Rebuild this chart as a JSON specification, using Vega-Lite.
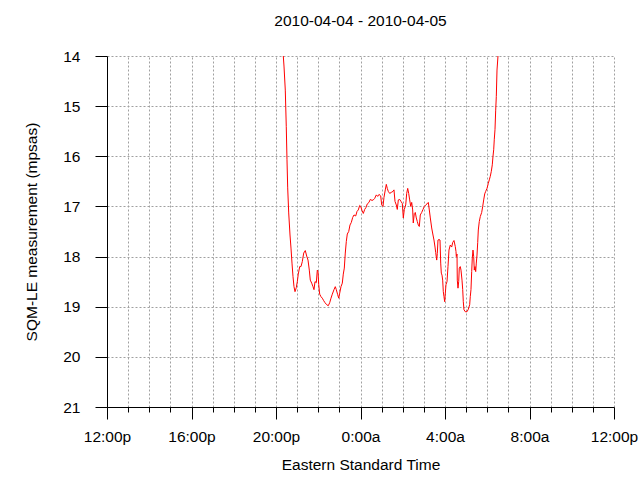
{
  "width": 507,
  "height": 351,
  "autosize": {"type": "none"},
  "padding": {"left": 107, "top": 56, "right": 26, "bottom": 73},
  "background": "white",
  "title": {"text": "2010-04-04 - 2010-04-05", "font": "Liberation Sans", "fontSize": 15.5, "fontWeight": "normal", "color": "#000000", "anchor": "middle", "offset": 20},
  "config": {"view": {"stroke": null}, "axis": {"labelFont": "Liberation Sans", "titleFont": "Liberation Sans", "labelColor": "#000000", "titleColor": "#000000", "titleFontWeight": "normal"}},
  "data": {"values": [
    {"t": "2010-04-04T20:17:00Z", "v": 13.0},
    {"t": "2010-04-04T20:20:42Z", "v": 14.0},
    {"t": "2010-04-04T20:22:42Z", "v": 14.2},
    {"t": "2010-04-04T20:26:24Z", "v": 14.68},
    {"t": "2010-04-04T20:29:12Z", "v": 15.41},
    {"t": "2010-04-04T20:31:12Z", "v": 16.07},
    {"t": "2010-04-04T20:33:12Z", "v": 16.63},
    {"t": "2010-04-04T20:36:06Z", "v": 17.13},
    {"t": "2010-04-04T20:39:48Z", "v": 17.57},
    {"t": "2010-04-04T20:42:36Z", "v": 17.83},
    {"t": "2010-04-04T20:45:24Z", "v": 18.13},
    {"t": "2010-04-04T20:48:18Z", "v": 18.4},
    {"t": "2010-04-04T20:51:06Z", "v": 18.6},
    {"t": "2010-04-04T20:54:00Z", "v": 18.7},
    {"t": "2010-04-04T20:57:36Z", "v": 18.62},
    {"t": "2010-04-04T21:00:30Z", "v": 18.5},
    {"t": "2010-04-04T21:03:18Z", "v": 18.35},
    {"t": "2010-04-04T21:07:18Z", "v": 18.2},
    {"t": "2010-04-04T21:11:00Z", "v": 18.2},
    {"t": "2010-04-04T21:14:42Z", "v": 18.1},
    {"t": "2010-04-04T21:18:42Z", "v": 17.93},
    {"t": "2010-04-04T21:23:12Z", "v": 17.88},
    {"t": "2010-04-04T21:27:12Z", "v": 17.99},
    {"t": "2010-04-04T21:30:54Z", "v": 18.07},
    {"t": "2010-04-04T21:34:36Z", "v": 18.27},
    {"t": "2010-04-04T21:37:24Z", "v": 18.47},
    {"t": "2010-04-04T21:41:24Z", "v": 18.53},
    {"t": "2010-04-04T21:45:06Z", "v": 18.6},
    {"t": "2010-04-04T21:47:54Z", "v": 18.66},
    {"t": "2010-04-04T21:50:48Z", "v": 18.5},
    {"t": "2010-04-04T21:54:30Z", "v": 18.52},
    {"t": "2010-04-04T21:57:18Z", "v": 18.27},
    {"t": "2010-04-04T21:59:18Z", "v": 18.3},
    {"t": "2010-04-04T22:01:18Z", "v": 18.56},
    {"t": "2010-04-04T22:04:06Z", "v": 18.75},
    {"t": "2010-04-04T22:07:48Z", "v": 18.8},
    {"t": "2010-04-04T22:11:30Z", "v": 18.83},
    {"t": "2010-04-04T22:15:30Z", "v": 18.88},
    {"t": "2010-04-04T22:19:12Z", "v": 18.92},
    {"t": "2010-04-04T22:24:00Z", "v": 18.96},
    {"t": "2010-04-04T22:28:30Z", "v": 18.98},
    {"t": "2010-04-04T22:32:30Z", "v": 18.92},
    {"t": "2010-04-04T22:36:12Z", "v": 18.83},
    {"t": "2010-04-04T22:39:54Z", "v": 18.75},
    {"t": "2010-04-04T22:44:42Z", "v": 18.66},
    {"t": "2010-04-04T22:48:24Z", "v": 18.6},
    {"t": "2010-04-04T22:51:18Z", "v": 18.66},
    {"t": "2010-04-04T22:55:12Z", "v": 18.76},
    {"t": "2010-04-04T22:58:06Z", "v": 18.83},
    {"t": "2010-04-04T23:00:54Z", "v": 18.73},
    {"t": "2010-04-04T23:04:36Z", "v": 18.6},
    {"t": "2010-04-04T23:08:18Z", "v": 18.53},
    {"t": "2010-04-04T23:11:06Z", "v": 18.35},
    {"t": "2010-04-04T23:14:00Z", "v": 18.23},
    {"t": "2010-04-04T23:16:48Z", "v": 17.93},
    {"t": "2010-04-04T23:19:42Z", "v": 17.7},
    {"t": "2010-04-04T23:22:30Z", "v": 17.55},
    {"t": "2010-04-04T23:26:30Z", "v": 17.5},
    {"t": "2010-04-04T23:30:12Z", "v": 17.37},
    {"t": "2010-04-04T23:33:54Z", "v": 17.32},
    {"t": "2010-04-04T23:37:48Z", "v": 17.22},
    {"t": "2010-04-04T23:41:30Z", "v": 17.17},
    {"t": "2010-04-04T23:46:24Z", "v": 17.19},
    {"t": "2010-04-04T23:50:06Z", "v": 17.1},
    {"t": "2010-04-04T23:53:42Z", "v": 17.07},
    {"t": "2010-04-04T23:57:42Z", "v": 16.98},
    {"t": "2010-04-05T00:00:36Z", "v": 17.0},
    {"t": "2010-04-05T00:04:18Z", "v": 17.08},
    {"t": "2010-04-05T00:08:00Z", "v": 17.14},
    {"t": "2010-04-05T00:11:54Z", "v": 17.06},
    {"t": "2010-04-05T00:15:36Z", "v": 17.02},
    {"t": "2010-04-05T00:19:18Z", "v": 16.95},
    {"t": "2010-04-05T00:24:06Z", "v": 16.92},
    {"t": "2010-04-05T00:27:48Z", "v": 16.86},
    {"t": "2010-04-05T00:32:42Z", "v": 16.88},
    {"t": "2010-04-05T00:36:18Z", "v": 16.87},
    {"t": "2010-04-05T00:40:18Z", "v": 16.84},
    {"t": "2010-04-05T00:44:54Z", "v": 16.77},
    {"t": "2010-04-05T00:48:48Z", "v": 16.8},
    {"t": "2010-04-05T00:52:30Z", "v": 16.76},
    {"t": "2010-04-05T00:57:24Z", "v": 16.79},
    {"t": "2010-04-05T01:00:12Z", "v": 16.97},
    {"t": "2010-04-05T01:03:54Z", "v": 17.0},
    {"t": "2010-04-05T01:06:42Z", "v": 16.82},
    {"t": "2010-04-05T01:10:24Z", "v": 16.67},
    {"t": "2010-04-05T01:13:18Z", "v": 16.56},
    {"t": "2010-04-05T01:16:06Z", "v": 16.64},
    {"t": "2010-04-05T01:18:54Z", "v": 16.7},
    {"t": "2010-04-05T01:22:54Z", "v": 16.74},
    {"t": "2010-04-05T01:27:30Z", "v": 16.72},
    {"t": "2010-04-05T01:32:18Z", "v": 16.7},
    {"t": "2010-04-05T01:35:06Z", "v": 16.67},
    {"t": "2010-04-05T01:38:00Z", "v": 16.9},
    {"t": "2010-04-05T01:41:42Z", "v": 16.97},
    {"t": "2010-04-05T01:44:30Z", "v": 17.06},
    {"t": "2010-04-05T01:47:24Z", "v": 16.87},
    {"t": "2010-04-05T01:51:18Z", "v": 16.86},
    {"t": "2010-04-05T01:55:00Z", "v": 16.9},
    {"t": "2010-04-05T01:58:42Z", "v": 16.94},
    {"t": "2010-04-05T02:01:36Z", "v": 17.23},
    {"t": "2010-04-05T02:04:24Z", "v": 17.06},
    {"t": "2010-04-05T02:08:24Z", "v": 16.97},
    {"t": "2010-04-05T02:11:12Z", "v": 16.74},
    {"t": "2010-04-05T02:14:06Z", "v": 16.64},
    {"t": "2010-04-05T02:16:54Z", "v": 16.74},
    {"t": "2010-04-05T02:19:42Z", "v": 16.87},
    {"t": "2010-04-05T02:22:36Z", "v": 17.0},
    {"t": "2010-04-05T02:25:24Z", "v": 16.92},
    {"t": "2010-04-05T02:28:12Z", "v": 17.07},
    {"t": "2010-04-05T02:29:54Z", "v": 17.33},
    {"t": "2010-04-05T02:32:48Z", "v": 17.14},
    {"t": "2010-04-05T02:35:36Z", "v": 17.12},
    {"t": "2010-04-05T02:38:30Z", "v": 17.23},
    {"t": "2010-04-05T02:41:18Z", "v": 17.3},
    {"t": "2010-04-05T02:44:12Z", "v": 17.37},
    {"t": "2010-04-05T02:47:00Z", "v": 17.4},
    {"t": "2010-04-05T02:49:48Z", "v": 17.17},
    {"t": "2010-04-05T02:53:48Z", "v": 17.12},
    {"t": "2010-04-05T02:57:30Z", "v": 17.06},
    {"t": "2010-04-05T03:01:12Z", "v": 17.0},
    {"t": "2010-04-05T03:05:12Z", "v": 16.97},
    {"t": "2010-04-05T03:08:54Z", "v": 16.95},
    {"t": "2010-04-05T03:12:36Z", "v": 16.92},
    {"t": "2010-04-05T03:15:24Z", "v": 17.07},
    {"t": "2010-04-05T03:18:18Z", "v": 17.23},
    {"t": "2010-04-05T03:22:12Z", "v": 17.43},
    {"t": "2010-04-05T03:25:54Z", "v": 17.57},
    {"t": "2010-04-05T03:28:42Z", "v": 17.67},
    {"t": "2010-04-05T03:31:36Z", "v": 17.81},
    {"t": "2010-04-05T03:33:36Z", "v": 17.92},
    {"t": "2010-04-05T03:36:24Z", "v": 18.07},
    {"t": "2010-04-05T03:38:06Z", "v": 17.94},
    {"t": "2010-04-05T03:40:06Z", "v": 17.67},
    {"t": "2010-04-05T03:42:54Z", "v": 17.66},
    {"t": "2010-04-05T03:45:48Z", "v": 17.67},
    {"t": "2010-04-05T03:47:48Z", "v": 18.13},
    {"t": "2010-04-05T03:49:30Z", "v": 18.33},
    {"t": "2010-04-05T03:51:30Z", "v": 18.37},
    {"t": "2010-04-05T03:53:24Z", "v": 18.47},
    {"t": "2010-04-05T03:55:12Z", "v": 18.7},
    {"t": "2010-04-05T03:57:06Z", "v": 18.8},
    {"t": "2010-04-05T03:59:06Z", "v": 18.9},
    {"t": "2010-04-05T04:00:54Z", "v": 18.73},
    {"t": "2010-04-05T04:02:48Z", "v": 18.56},
    {"t": "2010-04-05T04:05:42Z", "v": 18.5},
    {"t": "2010-04-05T04:08:30Z", "v": 18.2},
    {"t": "2010-04-05T04:11:18Z", "v": 17.87},
    {"t": "2010-04-05T04:15:00Z", "v": 17.77},
    {"t": "2010-04-05T04:19:00Z", "v": 17.81},
    {"t": "2010-04-05T04:21:48Z", "v": 17.72},
    {"t": "2010-04-05T04:25:30Z", "v": 17.68},
    {"t": "2010-04-05T04:29:12Z", "v": 17.8},
    {"t": "2010-04-05T04:31:12Z", "v": 17.9},
    {"t": "2010-04-05T04:32:06Z", "v": 18.0},
    {"t": "2010-04-05T04:34:06Z", "v": 17.95},
    {"t": "2010-04-05T04:34:54Z", "v": 18.47},
    {"t": "2010-04-05T04:36:54Z", "v": 18.63},
    {"t": "2010-04-05T04:38:54Z", "v": 18.5},
    {"t": "2010-04-05T04:40:36Z", "v": 18.23},
    {"t": "2010-04-05T04:43:24Z", "v": 18.2},
    {"t": "2010-04-05T04:45:24Z", "v": 18.27},
    {"t": "2010-04-05T04:48:18Z", "v": 18.47},
    {"t": "2010-04-05T04:50:18Z", "v": 18.66},
    {"t": "2010-04-05T04:52:00Z", "v": 18.9},
    {"t": "2010-04-05T04:53:54Z", "v": 19.06},
    {"t": "2010-04-05T04:57:36Z", "v": 19.1},
    {"t": "2010-04-05T05:02:30Z", "v": 19.1},
    {"t": "2010-04-05T05:06:12Z", "v": 19.05},
    {"t": "2010-04-05T05:10:06Z", "v": 18.96},
    {"t": "2010-04-05T05:11:48Z", "v": 18.8},
    {"t": "2010-04-05T05:13:48Z", "v": 18.66},
    {"t": "2010-04-05T05:15:48Z", "v": 18.3},
    {"t": "2010-04-05T05:17:30Z", "v": 18.03},
    {"t": "2010-04-05T05:19:30Z", "v": 17.87},
    {"t": "2010-04-05T05:21:30Z", "v": 18.0},
    {"t": "2010-04-05T05:23:12Z", "v": 18.27},
    {"t": "2010-04-05T05:25:12Z", "v": 18.2},
    {"t": "2010-04-05T05:27:12Z", "v": 18.3},
    {"t": "2010-04-05T05:28:54Z", "v": 18.13},
    {"t": "2010-04-05T05:30:54Z", "v": 17.97},
    {"t": "2010-04-05T05:32:54Z", "v": 17.72},
    {"t": "2010-04-05T05:34:36Z", "v": 17.47},
    {"t": "2010-04-05T05:37:24Z", "v": 17.3},
    {"t": "2010-04-05T05:40:18Z", "v": 17.2},
    {"t": "2010-04-05T05:44:12Z", "v": 17.12},
    {"t": "2010-04-05T05:47:06Z", "v": 17.0},
    {"t": "2010-04-05T05:49:54Z", "v": 16.87},
    {"t": "2010-04-05T05:52:48Z", "v": 16.75},
    {"t": "2010-04-05T05:55:36Z", "v": 16.7},
    {"t": "2010-04-05T05:59:18Z", "v": 16.64},
    {"t": "2010-04-05T06:03:00Z", "v": 16.54},
    {"t": "2010-04-05T06:05:48Z", "v": 16.47},
    {"t": "2010-04-05T06:08:36Z", "v": 16.4},
    {"t": "2010-04-05T06:11:30Z", "v": 16.3},
    {"t": "2010-04-05T06:14:18Z", "v": 16.17},
    {"t": "2010-04-05T06:16:18Z", "v": 16.0},
    {"t": "2010-04-05T06:18:18Z", "v": 15.87},
    {"t": "2010-04-05T06:20:00Z", "v": 15.66},
    {"t": "2010-04-05T06:22:00Z", "v": 15.47},
    {"t": "2010-04-05T06:24:00Z", "v": 15.08},
    {"t": "2010-04-05T06:25:42Z", "v": 14.81},
    {"t": "2010-04-05T06:27:42Z", "v": 14.28},
    {"t": "2010-04-05T06:30:30Z", "v": 14.0},
    {"t": "2010-04-05T06:33:24Z", "v": 13.2}
  ]},
  "mark": {"type": "line", "color": "#ff0000", "strokeWidth": 1, "clip": true},
  "encoding": {
    "x": {"field": "t", "type": "temporal",
      "scale": {"type": "utc", "domain": [1270382400000, 1270468800000], "nice": false},
      "axis": {"title": "Eastern Standard Time", "titleFontSize": 15.5, "titlePadding": 13, "labelFontSize": 15.5, "labelPadding": 10,
        "values": [1270382400000, 1270386000000, 1270389600000, 1270393200000, 1270396800000, 1270400400000, 1270404000000, 1270407600000, 1270411200000, 1270414800000, 1270418400000, 1270422000000, 1270425600000, 1270429200000, 1270432800000, 1270436400000, 1270440000000, 1270443600000, 1270447200000, 1270450800000, 1270454400000, 1270458000000, 1270461600000, 1270465200000, 1270468800000],
        "tickSize": {"condition": {"test": "floor(utchours(datum.value) / 4) * 4 === utchours(datum.value)", "value": 12}, "value": 5},
        "tickColor": "#000000", "domainColor": "#000000",
        "grid": true, "gridColor": "#a0a0a0", "gridDash": [2, 2], "gridWidth": 1,
        "labelFlush": false, "labelOverlap": false,
        "labelExpr": "floor(utchours(datum.value) / 4) * 4 === utchours(datum.value) ? utchours(datum.value) + ':00' + (utchours(datum.value) < 12 ? 'a' : 'p') : ''"}},
    "y": {"field": "v", "type": "quantitative",
      "scale": {"domain": [14, 21], "reverse": true, "nice": false, "zero": false},
      "axis": {"title": "SQM-LE measurement (mpsas)", "titleFontSize": 15.5, "titlePadding": 23, "labelFontSize": 15.5, "labelPadding": 15, "values": [14, 15, 16, 17, 18, 19, 20, 21], "tickSize": 12, "tickColor": "#000000", "domainColor": "#000000", "grid": true, "gridColor": "#a0a0a0", "gridDash": [2, 2], "gridWidth": 1, "labelFlush": false}}
  }
}
